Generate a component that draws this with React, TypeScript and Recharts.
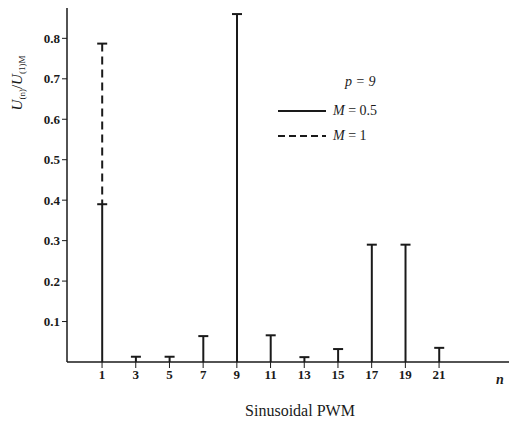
import React from 'react';
import { ComposedChart, Bar, XAxis, YAxis } from 'recharts';

// harmonic order n, and the relative amplitudes
const harmonics = [1, 3, 5, 7, 9, 11, 13, 15, 17, 19, 21];
const ampHalf = [0.39, 0.013, 0.013, 0.064, 0.86, 0.066, 0.012, 0.032, 0.29, 0.29, 0.035];
// M = 1 is only drawn for the fundamental, on top of the M = 0.5 stem
const ampFull: ([number, number] | null)[] = [[0.39, 0.787], null, null, null, null, null, null, null, null, null, null];
const yTicks = [0.1, 0.2, 0.3, 0.4, 0.5, 0.6, 0.7, 0.8];

const chartData = harmonics.map((n, i) => ({
  n,
  half: ampHalf[i],
  full: ampFull[i],
}));

const ink = '#1a1a1a';
const serif = '"Liberation Serif", "DejaVu Serif", serif';

const Stem = (props: any) => {
  const { x, y, width, height, dashed } = props;
  if (x == null || y == null || !height) return null;
  const top = Math.min(y, y + height);
  const bottom = Math.max(y, y + height);
  const cx = x + width / 2;
  return (
    <g>
      <line x1={cx} x2={cx} y1={top} y2={bottom} stroke={ink} strokeWidth={2}
        strokeDasharray={dashed ? '8 5' : undefined} />
      <line x1={cx - 5} x2={cx + 5} y1={top} y2={top} stroke={ink} strokeWidth={2} />
    </g>
  );
};

export default function App() {
  const tickStyle = { fontSize: 13, fill: ink, fontFamily: serif, fontWeight: 'bold' as const };
  return (
    <div style={{ position: 'fixed', left: 0, top: 0, width: 509, height: 432, background: '#fff' }}>
      <ComposedChart width={509} height={432} data={chartData}
        margin={{ top: 8, right: 0, left: 7, bottom: 50 }}>
        <XAxis xAxisId="a" dataKey="n" type="number" domain={[-1.08, 25.15]} ticks={harmonics}
          allowDataOverflow tick={tickStyle} tickLine={{ stroke: ink }} tickSize={6}
          axisLine={{ stroke: ink, strokeWidth: 1.5 }} height={20} />
        <XAxis xAxisId="b" dataKey="n" type="number" domain={[-1.08, 25.15]} hide allowDataOverflow />
        <YAxis domain={[0, 0.875]} ticks={yTicks} tickFormatter={(v) => v.toFixed(1)}
          tick={tickStyle} tickLine={{ stroke: ink }} tickSize={5} width={60}
          axisLine={{ stroke: ink, strokeWidth: 1.5 }} allowDataOverflow />
        <Bar xAxisId="a" dataKey="half" name="M = 0.5" barSize={10} isAnimationActive={false}
          shape={(p: any) => <Stem {...p} />} />
        <Bar xAxisId="b" dataKey="full" name="M = 1" barSize={10} isAnimationActive={false}
          shape={(p: any) => <Stem {...p} dashed />} />
      </ComposedChart>
      <svg width={509} height={432} style={{ position: 'absolute', left: 0, top: 0, pointerEvents: 'none' }}>
        <text transform="translate(22,83) rotate(-90)" textAnchor="middle" fontFamily={serif}
          fontSize={15} fill={ink}>
          <tspan fontStyle="italic">U</tspan>
          <tspan fontSize={9} dy={3}>(n)</tspan>
          <tspan dy={-3}>/</tspan>
          <tspan fontStyle="italic">U</tspan>
          <tspan fontSize={9} dy={3}>(1)M</tspan>
        </text>
        {/* legend */}
        <text x={345} y={86} fontFamily={serif} fontStyle="italic" fontSize={14} fill={ink}>p = 9</text>
        <line x1={278} x2={326} y1={111} y2={111} stroke={ink} strokeWidth={2} />
        <text x={333} y={115} fontFamily={serif} fontSize={14} fill={ink}>
          <tspan fontStyle="italic">M</tspan> = 0.5
        </text>
        <line x1={278} x2={326} y1={136} y2={136} stroke={ink} strokeWidth={2} strokeDasharray="7 4" />
        <text x={333} y={140} fontFamily={serif} fontSize={14} fill={ink}>
          <tspan fontStyle="italic">M</tspan> = 1
        </text>
        <text x={496} y={384} fontFamily={serif} fontStyle="italic" fontWeight="bold" fontSize={14} fill={ink}>n</text>
        <text x={300} y={416} textAnchor="middle" fontFamily={serif} fontSize={16} fill={ink}>Sinusoidal PWM</text>
      </svg>
    </div>
  );
}
